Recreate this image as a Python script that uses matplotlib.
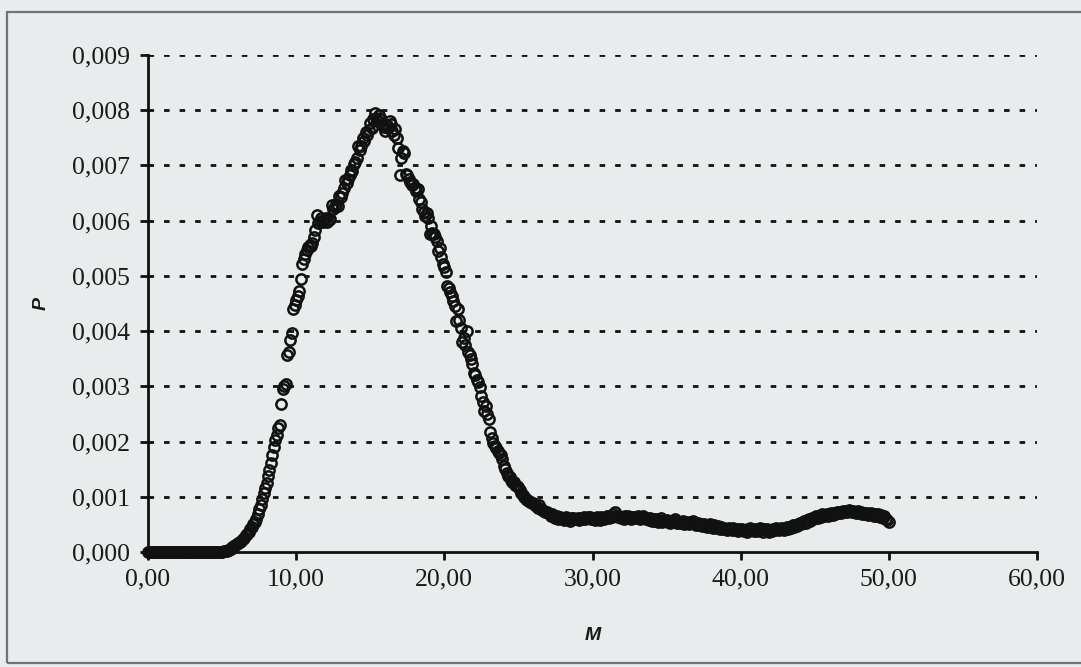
import numpy as np
import matplotlib
matplotlib.use("Agg")
import matplotlib.pyplot as plt
from matplotlib.patches import Rectangle
from matplotlib.ticker import FuncFormatter

# M from 0.0 to 50.0 in steps of 0.1, P given in units of 1e-4 (one row per unit of M)
mStart = 0.0
mStep = 0.1
pRows = [
    [0, 0, 0, 0, 0, 0, 0, 0, 0, 0],
    [0, 0, 0, 0, 0, 0, 0, 0, 0, 0],
    [0, 0, 0, 0, 0, 0, 0, 0, 0, 0],
    [0, 0, 0, 0, 0, 0, 0, 0, 0, 0],
    [0, 0, 0, 0, 0, 0, 0, 0, 0.02, 0.05],
    [0.08, 0.12, 0.18, 0.25, 0.35, 0.45, 0.6, 0.85, 1.0, 1.2],
    [1.4, 1.6, 1.8, 2.0, 2.3, 2.6, 3.0, 3.3, 3.7, 4.1],
    [4.6, 5.0, 5.4, 6.0, 6.8, 7.7, 8.6, 9.6, 10.6, 11.5],
    [12.5, 13.8, 14.9, 16.2, 17.5, 19.0, 20.3, 21.2, 22.5, 23.0],
    [26.8, 29.6, 30.0, 30.4, 35.6, 36.3, 38.4, 39.6, 44.0, 44.8],
    [45.6, 46.4, 47.2, 49.5, 52.2, 53.0, 54.0, 54.6, 55.2, 55.6],
    [55.5, 56.0, 57.0, 58.3, 61.0, 59.5, 60.0, 60.5, 59.8, 60.2],
    [60.4, 59.8, 60.1, 60.3, 62.8, 62.2, 62.5, 63.0, 62.7, 64.5],
    [64.2, 65.0, 66.0, 67.3, 66.8, 67.5, 68.3, 69.2, 69.0, 70.2],
    [70.6, 71.3, 73.5, 72.8, 73.6, 75.0, 74.5, 76.0, 75.5, 76.4],
    [77.6, 76.8, 78.4, 79.5, 78.6, 78.0, 79.2, 78.4, 77.3, 77.0],
    [76.2, 77.4, 76.8, 78.0, 77.5, 76.2, 75.5, 76.6, 75.0, 73.2],
    [68.2, 71.3, 72.7, 72.2, 68.5, 68.2, 67.6, 67.0, 66.4, 66.6],
    [66.0, 65.4, 65.8, 64.0, 63.4, 62.2, 61.6, 60.8, 61.3, 60.4],
    [57.6, 59.0, 57.8, 57.6, 57.0, 56.4, 54.5, 55.0, 53.5, 52.2],
    [51.6, 50.7, 48.2, 47.8, 47.0, 46.4, 45.4, 44.5, 41.8, 44.0],
    [42.0, 40.6, 38.0, 38.8, 37.4, 40.0, 36.2, 35.6, 34.9, 34.0],
    [32.5, 32.0, 31.2, 30.7, 29.8, 28.3, 27.2, 25.5, 26.4, 25.0],
    [24.0, 21.8, 20.6, 19.8, 19.2, 18.9, 18.3, 17.9, 17.6, 16.8],
    [15.5, 15.0, 14.3, 13.8, 13.6, 13.0, 12.6, 12.7, 12.2, 12.0],
    [11.8, 11.2, 10.7, 10.4, 10.0, 9.6, 9.5, 9.2, 9.0, 8.8],
    [8.8, 8.5, 8.3, 8.0, 8.5, 7.8, 7.6, 7.4, 7.2, 7.3],
    [7.0, 6.8, 6.6, 6.9, 6.4, 6.2, 6.5, 6.0, 6.4, 6.2],
    [6.0, 5.8, 6.3, 6.1, 5.9, 5.7, 6.2, 6.2, 5.9, 6.0],
    [6.1, 5.8, 6.2, 6.0, 6.4, 5.9, 6.1, 6.3, 6.4, 6.0],
    [6.2, 6.0, 5.8, 6.3, 6.1, 5.8, 6.4, 6.2, 6.0, 6.3],
    [6.5, 6.2, 6.6, 6.4, 6.8, 7.2, 6.5, 6.3, 6.6, 6.2],
    [6.4, 6.0, 6.5, 6.2, 6.6, 6.3, 6.0, 6.4, 6.1, 6.3],
    [6.2, 6.5, 6.0, 6.3, 6.6, 6.1, 5.9, 6.2, 5.8, 6.1],
    [5.7, 6.0, 5.6, 5.9, 5.5, 5.8, 6.1, 5.4, 5.7, 5.6],
    [5.8, 5.5, 5.2, 5.7, 5.4, 5.6, 5.9, 5.3, 5.5, 5.2],
    [5.4, 5.6, 5.1, 5.5, 5.3, 5.0, 5.4, 5.2, 5.6, 5.1],
    [4.9, 5.2, 4.8, 5.0, 4.7, 5.1, 4.9, 4.6, 4.8, 5.0],
    [4.6, 4.4, 4.8, 4.5, 4.3, 4.7, 4.2, 4.5, 4.1, 4.4],
    [4.2, 4.0, 4.4, 4.1, 3.9, 4.3, 4.0, 4.2, 3.8, 4.1],
    [3.9, 4.2, 3.8, 4.0, 3.7, 4.1, 4.3, 3.9, 4.0, 3.8],
    [4.1, 3.8, 4.0, 4.4, 3.9, 3.7, 4.2, 3.9, 4.1, 3.6],
    [4.0, 3.8, 4.2, 3.9, 4.3, 4.1, 3.9, 4.4, 4.2, 4.0],
    [4.3, 4.5, 4.2, 4.6, 4.4, 4.8, 4.5, 4.9, 4.7, 5.0],
    [5.2, 5.0, 5.4, 5.6, 5.3, 5.8, 6.0, 5.7, 6.2, 6.0],
    [6.3, 6.5, 6.2, 6.6, 6.4, 6.8, 6.5, 6.7, 6.9, 6.6],
    [6.8, 7.0, 6.7, 7.1, 6.9, 7.2, 7.0, 7.3, 7.1, 7.4],
    [7.2, 7.5, 7.3, 7.6, 7.4, 7.2, 7.5, 7.3, 7.1, 7.4],
    [7.0, 7.2, 6.9, 7.1, 6.8, 7.0, 6.7, 6.9, 7.1, 6.8],
    [6.6, 6.9, 6.5, 6.8, 6.4, 6.7, 6.2, 6.5, 6.0, 5.8],
    [5.5],
]

xTicks = [0, 10, 20, 30, 40, 50, 60]
yTicks = [0.000, 0.001, 0.002, 0.003, 0.004, 0.005, 0.006, 0.007, 0.008, 0.009]

pValues = np.array([v for row in pRows for v in row]) * 1e-4
mValues = mStart + mStep * np.arange(len(pValues))

bgColor = "#e8ecec"

fig = plt.figure(figsize=(10.81, 6.67), dpi=100, facecolor=bgColor)
ax = fig.add_axes([148 / 1081, 115 / 667, 889 / 1081, 497 / 667])
ax.set_facecolor("none")

# outer chart frame
fig.patches.append(Rectangle((7 / 1081, 4 / 667), 1.2, 651 / 667,
                             transform=fig.transFigure, fill=False,
                             edgecolor="#6f7373", linewidth=1.6))

# dotted horizontal gridlines
for y in yTicks[1:]:
    ax.plot([0, 60], [y, y], color="#111111", linewidth=2.0,
            dashes=(2.0, 3.6), solid_capstyle="butt", zorder=1)

ax.plot(mValues, pValues, linestyle="none", marker="o", markersize=7.4,
        markerfacecolor="none", markeredgecolor="#111111",
        markeredgewidth=1.8, zorder=3, clip_on=False)

ax.set_xlim(0, 60)
ax.set_ylim(0, 0.009)
ax.set_xticks(xTicks)
ax.set_yticks(yTicks)
ax.xaxis.set_major_formatter(FuncFormatter(lambda v, p: ("%.2f" % v).replace(".", ",")))
ax.yaxis.set_major_formatter(FuncFormatter(lambda v, p: ("%.3f" % v).replace(".", ",")))

for side in ["top", "right"]:
    ax.spines[side].set_visible(False)
for side in ["left", "bottom"]:
    ax.spines[side].set_linewidth(2.0)
    ax.spines[side].set_color("#111111")

ax.tick_params(direction="out", length=6, width=2.0, color="#111111",
               labelsize=18.5, labelcolor="#1a1a1a", pad=7)
for lbl in ax.get_xticklabels() + ax.get_yticklabels():
    lbl.set_fontfamily("Liberation Serif")
ax.tick_params(axis="x", pad=6)

ax.set_xlabel("M", fontfamily="Liberation Sans", fontweight="bold",
              fontstyle="italic", fontsize=14, color="#1a1a1a", labelpad=26)
ax.set_ylabel("P", fontfamily="Liberation Sans", fontweight="bold",
              fontstyle="italic", fontsize=14, color="#1a1a1a", labelpad=16)

plt.savefig("out.png", dpi=100, facecolor=bgColor)
